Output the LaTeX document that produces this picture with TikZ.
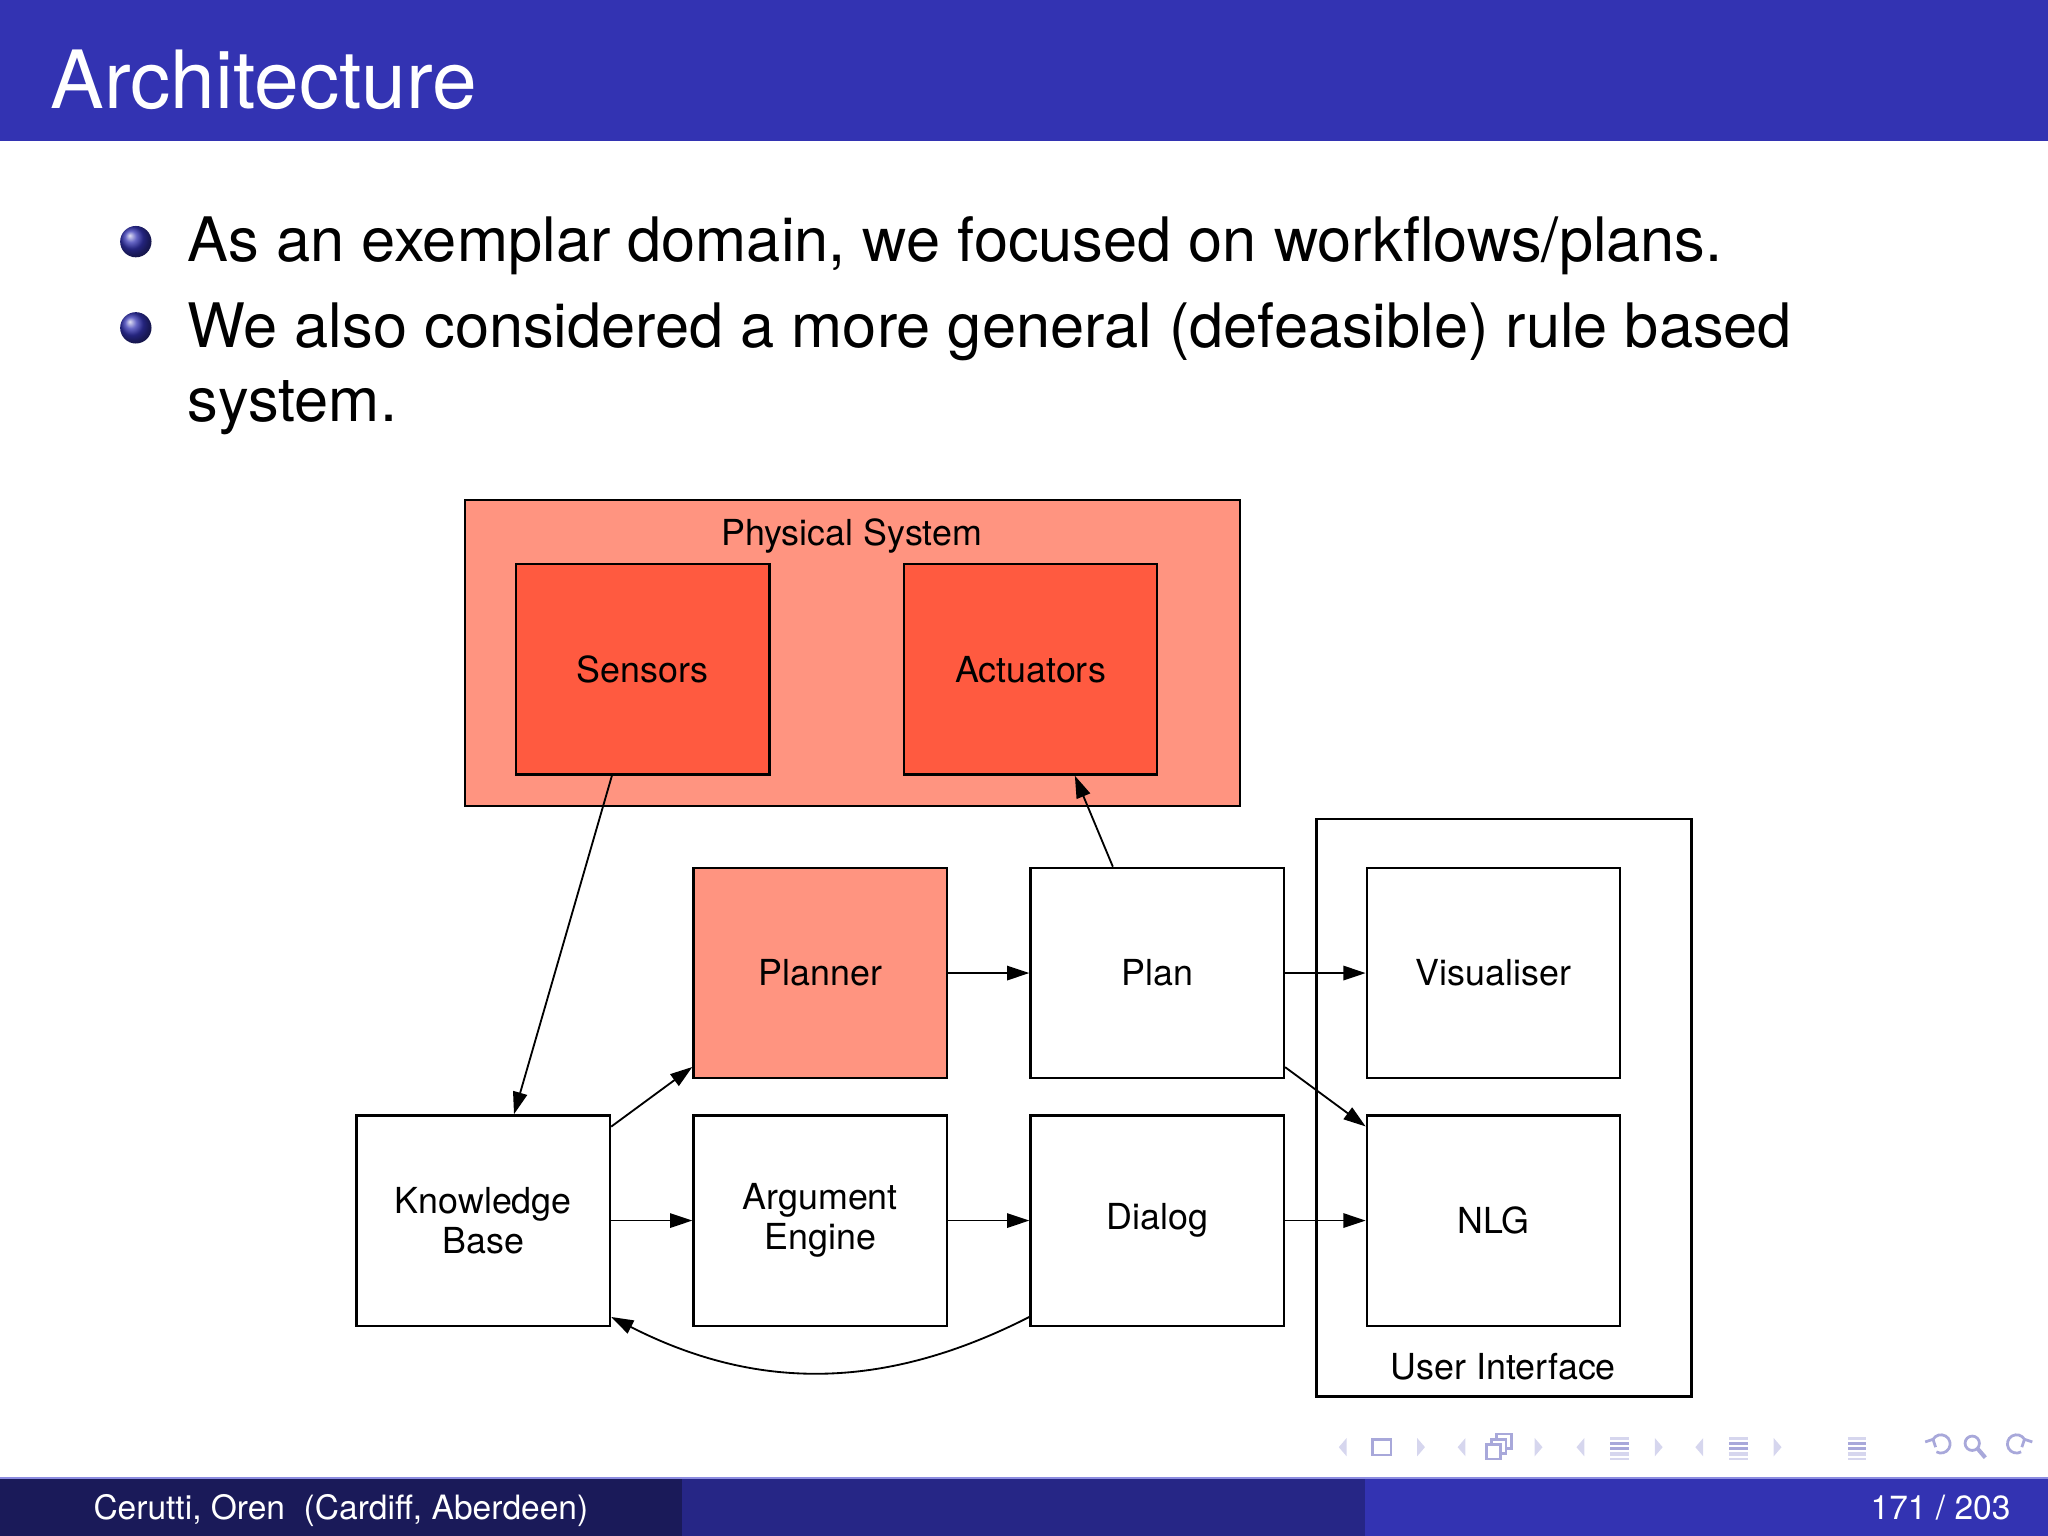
\documentclass[tikz,border=0pt]{standalone}
\usepackage{fontspec}
\setmainfont{TeX Gyre Heros}
\usetikzlibrary{arrows.meta,positioning}
\definecolor{beamerblue}{RGB}{51,51,178}
\definecolor{footdark}{RGB}{26,26,89}
\definecolor{footmid}{RGB}{38,38,134}
\definecolor{footline}{RGB}{140,140,224}
\definecolor{salmon}{RGB}{255,148,128}
\definecolor{tomato}{RGB}{255,90,64}
\definecolor{navlight}{RGB}{214,214,238}
\definecolor{navmid}{RGB}{168,168,218}
\newcommand{\fsz}[2]{\fontsize{#1}{#2}\selectfont}

\begin{document}
\begin{tikzpicture}[x=0.01cm, y=-0.01cm,
        box/.style={rectangle, draw, line width=0.5pt, minimum width=1.94cm, minimum height=1.61cm, align=center, font=\fsz{7.8}{8.6}},
        frame/.style={rectangle, draw, line width=0.5pt},
        lbl/.style={font=\fsz{7.8}{8.6}, inner sep=0pt, anchor=base},
        arr/.style={-{Triangle[length=1.7mm,width=1.1mm]}, line width=0.4pt},
        ball/.style={circle, shading=ball, ball color=beamerblue, minimum size=0.24cm, inner sep=0pt},
        bullettext/.style={font=\fsz{13.35}{16}, inner sep=0pt, anchor=base west}
    ]
    \useasboundingbox (0,0) rectangle (1568,1176);

    % header
    \fill[beamerblue] (0,0) rectangle (1568,108);
    \node[font=\fsz{17.5}{20}, text=white, inner sep=0pt, anchor=base west] (title) at (38,83) {Architecture};

    % bullets
    \node[ball] (b1) at (104,185) {};
    \node[ball] (b2) at (104,251) {};
    \node[bullettext] (t1) at (143,200) {As an exemplar domain, we focused on workflows/plans.};
    \node[bullettext] (t2) at (143,266) {We also considered a more general (defeasible) rule based};
    \node[bullettext] (t3) at (143,323) {system.};

    % physical system
    \node[frame, fill=salmon, minimum width=5.93cm, minimum height=2.34cm] (phys) at (652.5,500) {};
    \node[lbl] (physlbl) at (652,418) {Physical System};
    \node[box, fill=tomato] (sens) at (492,512.5) {Sensors};
    \node[box, fill=tomato] (act) at (789,512.5) {Actuators};

    % user interface
    \node[frame, minimum width=2.87cm, minimum height=4.42cm] (ui) at (1151.5,848) {};
    \node[lbl] (uilbl) at (1151,1056) {User Interface};

    % components
    \node[box, fill=salmon] (planner) at (628,745) {Planner};
    \node[box] (plan) at (886,745) {Plan};
    \node[box] (vis) at (1143.5,745) {Visualiser};
    \node[box] (kb) at (370,934.5) {Knowledge\\Base};
    \node[box] (arg) at (628,934.5) {Argument\\Engine};
    \node[box] (dlg) at (886,934.5) {Dialog};
    \node[box] (nlg) at (1143.5,934.5) {NLG};

    % connectors
    \draw[arr] (sens) -- (kb);
    \draw[arr] (plan) -- (act);
    \draw[arr] (kb) -- (planner);
    \draw[arr] (planner) -- (plan);
    \draw[arr] (plan) -- (vis);
    \draw[arr] (plan) -- (nlg);
    \draw[arr] (kb) -- (arg);
    \draw[arr] (arg) -- (dlg);
    \draw[arr] (dlg) -- (nlg);
    \draw[arr] (dlg.-143) to[bend left=27] (kb.-37);

    % navigation symbols
    \foreach \x in {1028,1119,1210,1301}
        \fill[navlight] (\x+3,1101) -- (\x-3,1108) -- (\x+3,1115) -- cycle;
    \foreach \x in {1088,1178,1270,1361}
        \fill[navlight] (\x-3,1101) -- (\x+3,1108) -- (\x-3,1115) -- cycle;
    \draw[navmid, line width=0.6pt] (1051,1102) rectangle (1065,1114);
    \foreach \d in {0,4,8}
        \draw[navmid, fill=white, line width=0.6pt] (1146-\d,1098+\d) rectangle (1157-\d,1109+\d);
    \foreach \x in {1240,1331,1422} {
        \foreach \y in {1100,1112}
            \fill[navlight] (\x-7,\y) rectangle (\x+7,\y+2.5);
        \foreach \y in {1104,1108}
            \fill[navmid] (\x-7,\y) rectangle (\x+7,\y+2.5);
        \fill[navlight] (\x-7,1116) rectangle (\x+7,1118);
    }
    \draw[navmid, line width=0.6pt] (1480,1102) arc[start angle=150, end angle=-120, radius=0.07cm];
    \draw[navmid, line width=0.6pt] (1474,1104) -- (1480,1102) -- (1482,1108);
    \draw[navmid, line width=0.6pt] (1510,1105) circle[radius=0.055cm];
    \draw[navmid, line width=0.9pt] (1514,1109) -- (1520,1116);
    \draw[navmid, line width=0.6pt] (1550,1102) arc[start angle=30, end angle=300, radius=0.07cm];
    \draw[navmid, line width=0.6pt] (1556,1104) -- (1550,1102) -- (1548,1108);

    % footer
    \fill[footdark] (0,1132) rectangle (522,1176);
    \fill[footmid] (522,1132) rectangle (1045,1176);
    \fill[beamerblue] (1045,1132) rectangle (1568,1176);
    \draw[footline, line width=0.5pt] (0,1131.5) -- (1568,1131.5);
    \node[font=\fsz{7.3}{8}, text=white, inner sep=0pt, anchor=base] (authors) at (261,1163) {Cerutti, Oren\ \ (Cardiff, Aberdeen)};
    \node[font=\fsz{7.3}{8}, text=white, inner sep=0pt, anchor=base east] (pages) at (1540,1163) {171 / 203};
\end{tikzpicture}
\end{document}
